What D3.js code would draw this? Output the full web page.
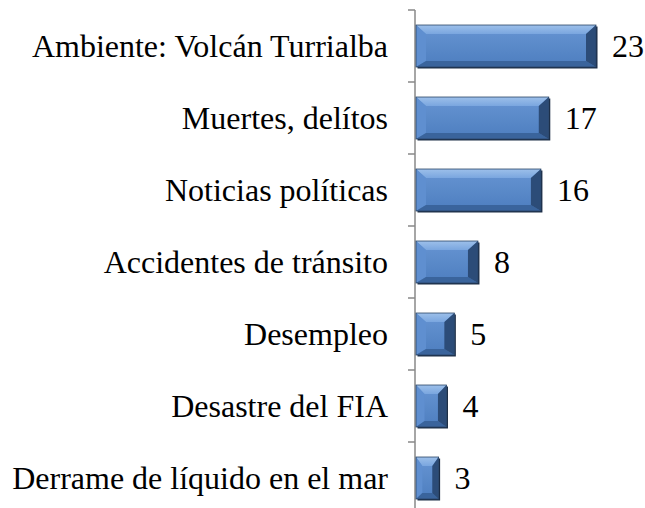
<!DOCTYPE html>
<html>
<head>
<meta charset="utf-8">
<script src="https://cdn.jsdelivr.net/npm/d3@7"></script>
<style>
  body { margin: 0; background: #fff; }
  svg text { font-family: "Liberation Serif", serif; }
</style>
</head>
<body>
<div id="chart"></div>
<script>
let CHART_WIDTH = 645;
let CHART_HEIGHT = 508;

var categories = ["Ambiente: Volcán Turrialba", "Muertes, delítos", "Noticias políticas",
  "Accidentes de tránsito", "Desempleo", "Desastre del FIA", "Derrame de líquido en el mar"];
var values = [23, 17, 16, 8, 5, 4, 3];

const drawBarChart = () => {
  var x0 = 415, top = 10, bottom = 514;
  var pad = 0.417;

  var svg = d3.select("#chart").append("svg")
    .attr("width", CHART_WIDTH)
    .attr("height", CHART_HEIGHT);

  var x = d3.scaleLinear().domain([0, 23]).range([x0, 596]);
  var y = d3.scaleBand().domain(categories).range([top, bottom])
    .paddingInner(pad).paddingOuter(pad / 2);

  var defs = svg.append("defs");
  var grad = defs.append("linearGradient").attr("id", "face")
    .attr("x1", 0).attr("y1", 0).attr("x2", 0).attr("y2", 1);
  grad.append("stop").attr("offset", "0%").attr("stop-color", "#6795d3");
  grad.append("stop").attr("offset", "100%").attr("stop-color", "#4d7ebf");
  var gtop = defs.append("linearGradient").attr("id", "topb")
    .attr("x1", 0).attr("y1", 0).attr("x2", 0).attr("y2", 1);
  gtop.append("stop").attr("offset", "0%").attr("stop-color", "#9dc0ea");
  gtop.append("stop").attr("offset", "100%").attr("stop-color", "#7aa6df");

  // axis line + tick marks at band boundaries
  var ax = svg.append("g").attr("class", "axis");
  ax.append("line")
    .attr("x1", x0).attr("x2", x0).attr("y1", top).attr("y2", CHART_HEIGHT)
    .attr("stroke", "#888").attr("stroke-width", 1.5);
  var bounds = categories.map(c => y(c) - y.step() * pad / 2);
  ax.selectAll(".tick").data(bounds).enter().append("line")
    .attr("x1", x0 - 7).attr("x2", x0).attr("y1", d => d).attr("y2", d => d)
    .attr("stroke", "#888").attr("stroke-width", 1.5);

  var g = svg.selectAll(".bar").data(values).enter().append("g").attr("class", "bar");

  g.each(function (v, i) {
    var el = d3.select(this);
    var xa = x(0) + 1, xb = x(v), ya = y(categories[i]), yb = ya + y.bandwidth();
    var w = xb - xa, h = yb - ya;
    var bx = Math.min(10, w * 0.28), byT = 9, byB = 6;
    // shadow
    el.append("rect").attr("x", xa + 1.5).attr("y", ya + 1.5).attr("width", w).attr("height", h)
      .attr("fill", "#1a2b44");
    el.append("rect").attr("x", xa).attr("y", ya).attr("width", w).attr("height", h)
      .attr("fill", "url(#face)");
    var pts = (a) => a.map(p => p.join(",")).join(" ");
    // top bevel
    el.append("polygon").attr("points", pts([[xa, ya], [xb, ya], [xb - bx, ya + byT], [xa + bx, ya + byT]]))
      .attr("fill", "url(#topb)");
    // left bevel
    el.append("polygon").attr("points", pts([[xa, ya], [xa + bx, ya + byT], [xa + bx, yb - byB], [xa, yb]]))
      .attr("fill", "#5f8fd0");
    // bottom bevel
    el.append("polygon").attr("points", pts([[xa, yb], [xa + bx, yb - byB], [xb - bx, yb - byB], [xb, yb]]))
      .attr("fill", "#3a649c");
    // right bevel
    el.append("polygon").attr("points", pts([[xb, ya], [xb, yb], [xb - bx, yb - byB], [xb - bx, ya + byT]]))
      .attr("fill", "#2c4c78");
    el.append("rect").attr("x", xa).attr("y", ya).attr("width", w).attr("height", h)
      .attr("fill", "none").attr("stroke", "#2a4566").attr("stroke-width", 0.8);
  });

  svg.selectAll(".cat").data(categories).enter().append("text")
    .attr("class", "cat")
    .attr("x", 388)
    .attr("y", d => y(d) + y.bandwidth() / 2)
    .attr("dy", "0.33em")
    .attr("text-anchor", "end")
    .attr("font-size", 32)
    .attr("fill", "#000")
    .text(d => d);

  svg.selectAll(".val").data(values).enter().append("text")
    .attr("class", "val")
    .attr("x", d => x(d) + 16)
    .attr("y", (d, i) => y(categories[i]) + y.bandwidth() / 2)
    .attr("dy", "0.33em")
    .attr("font-size", 32)
    .attr("fill", "#000")
    .text(d => d);
};

drawBarChart();
</script>
</body>
</html>
